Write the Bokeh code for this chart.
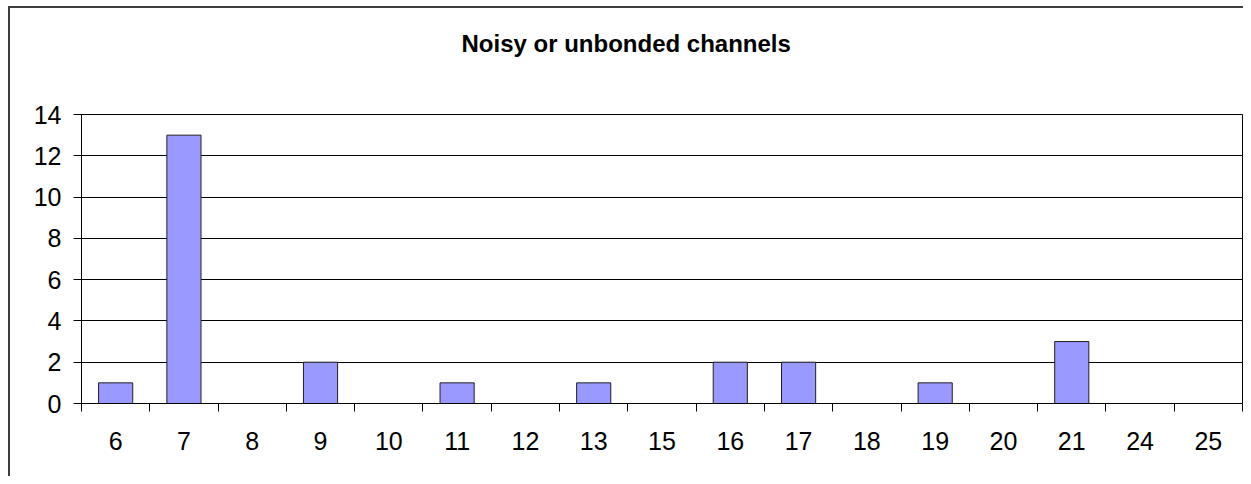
from bokeh.plotting import figure
from bokeh.models import Range1d, FixedTicker, SingleIntervalTicker, ColumnDataSource, Title
from bokeh.embed import file_html
from bokeh.resources import INLINE

# data
channels = ["6", "7", "8", "9", "10", "11", "12", "13", "15", "16", "17", "18", "19", "20", "21", "24", "25"]
counts = [1, 13, 0, 2, 0, 1, 0, 1, 0, 2, 2, 0, 1, 0, 3, 0, 0]
title_text = "Noisy or unbonded channels"

n = len(channels)
centers = [i + 0.5 for i in range(n)]
bounds = [float(i) for i in range(n + 1)]

src = ColumnDataSource(dict(x=centers, top=counts, ch=channels))

frame_css = ("linear-gradient(#404040, #404040) 8px 6px / 2px 2000px no-repeat, "
             "linear-gradient(#404040, #404040) 8px 6px / 3000px 2px no-repeat, #ffffff")

p = figure(width=1243, height=476, output_backend="svg", toolbar_location=None,
           x_range=Range1d(0, n), y_range=Range1d(0, 14),
           min_border_left=81, min_border_top=114, min_border_bottom=73, min_border_right=1,
           styles={"background": frame_css})

# spacer between the frame and the title
p.add_layout(Title(text=" ", text_font_size="2px", standoff=54), "above")

p.title.text = title_text
p.title.align = "left"
p.title.offset = 380
p.title.vertical_align = "bottom"
p.title.text_font = "Liberation Sans"
p.title.text_font_size = "24px"
p.title.text_font_style = "bold"
p.title.text_color = "black"
p.title.standoff = 0

p.vbar(x="x", top="top", width=0.5, source=src, fill_color="#9999FF",
       line_color="#202020", line_width=1)

# x axis: labels at centers, ticks at category boundaries
xa = p.xaxis[0]
xa.ticker = FixedTicker(ticks=centers, minor_ticks=bounds)
xa.major_label_overrides = {c: ch for c, ch in zip(centers, channels)}
xa.major_tick_out = 0
xa.major_tick_in = 0
xa.minor_tick_out = 8
xa.minor_tick_in = 0
xa.minor_tick_line_color = "black"
xa.axis_line_color = "black"
xa.major_label_standoff = 20
xa.major_label_text_font = "Liberation Sans"
xa.major_label_text_font_size = "25px"
xa.major_label_text_color = "black"

ya = p.yaxis[0]
ya.ticker = SingleIntervalTicker(interval=2)
ya.major_tick_out = 8
ya.major_tick_in = 0
ya.minor_tick_line_color = None
ya.axis_line_color = "black"
ya.major_tick_line_color = "black"
ya.major_label_standoff = 12
ya.major_label_text_font = "Liberation Sans"
ya.major_label_text_font_size = "25px"
ya.major_label_text_color = "black"

p.xgrid.grid_line_color = None
p.ygrid.grid_line_color = "black"
p.ygrid.ticker = SingleIntervalTicker(interval=2)
p.outline_line_color = "black"
p.background_fill_color = "white"
p.border_fill_color = None

open("out.html", "w").write(file_html(p, INLINE))
